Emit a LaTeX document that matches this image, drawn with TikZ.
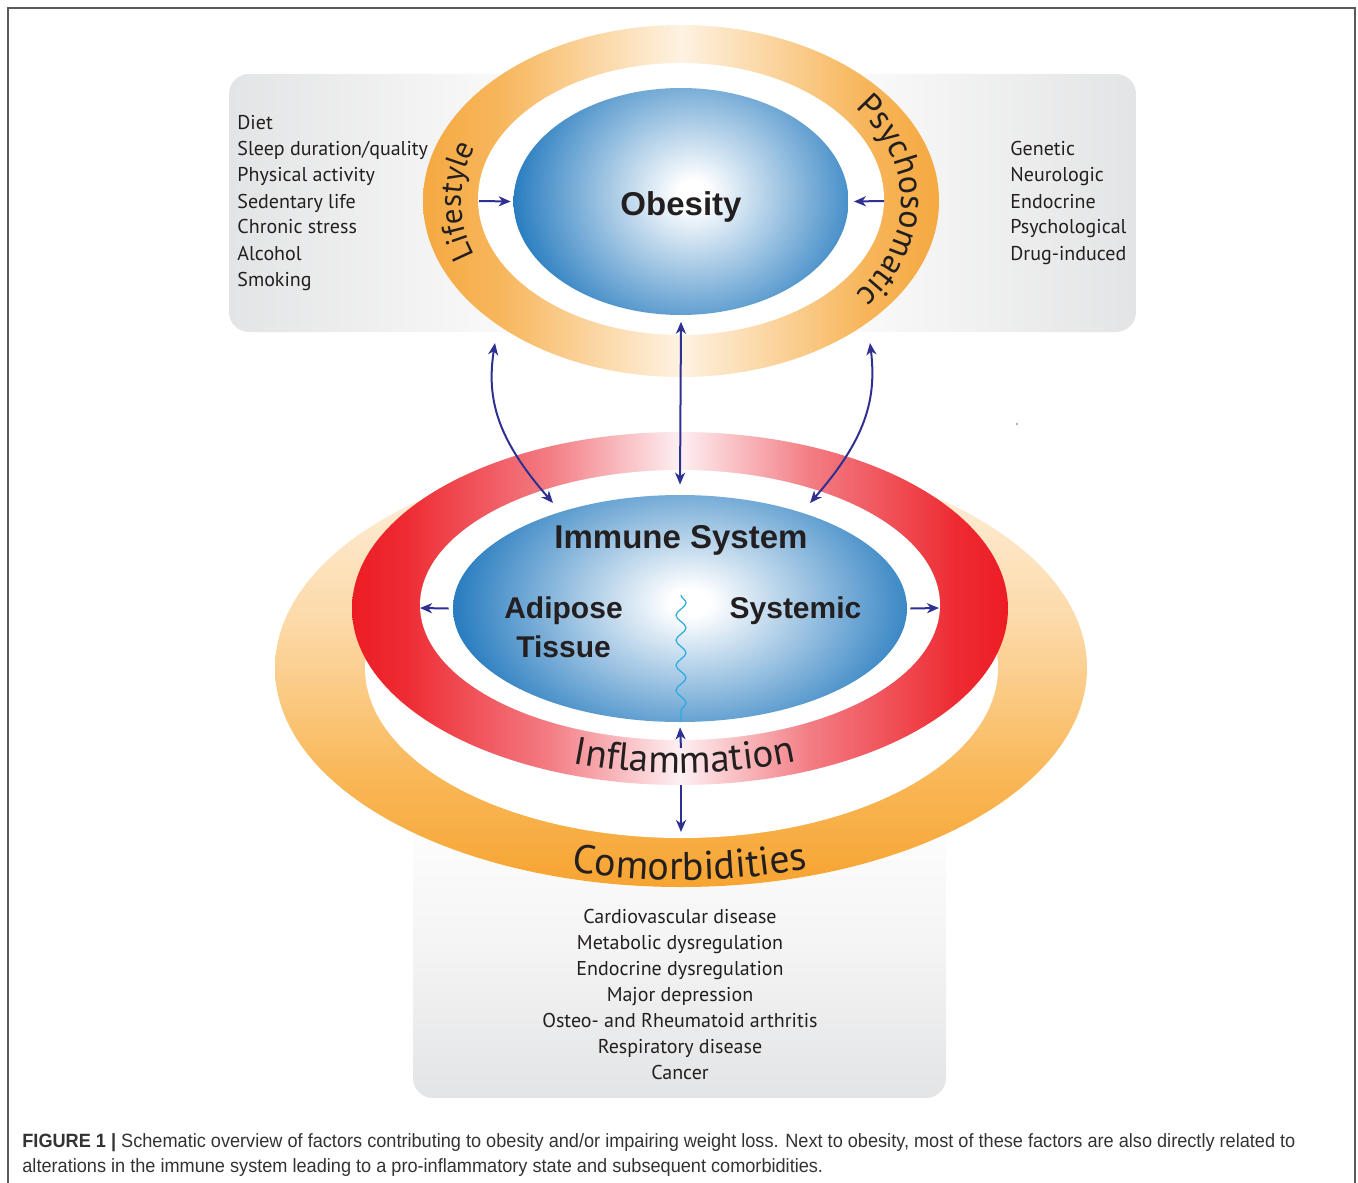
\documentclass[tikz,border=0pt]{standalone}
\usepackage{fontspec}
\usetikzlibrary{shapes.geometric, arrows.meta, decorations.text, decorations.pathmorphing}

\newfontfamily\humfont{PT Sans}
\newfontfamily\headfont{Liberation Sans}
\newfontfamily\capfont[FakeStretch=0.945]{Liberation Sans}

% palette
\definecolor{navy}{HTML}{2E3192}
\definecolor{ink}{HTML}{231F20}
\definecolor{blueE}{HTML}{1C75BC}
\definecolor{waveB}{HTML}{29ABE2}
\definecolor{orS}{HTML}{F5A941}
\definecolor{orA}{HTML}{F7B65C}
\definecolor{orB}{HTML}{FBD9A9}
\definecolor{orP}{HTML}{FEF2E2}
\definecolor{loS}{HTML}{F7A431}
\definecolor{loA}{HTML}{F9B757}
\definecolor{loB}{HTML}{FCD9A7}
\definecolor{loP}{HTML}{FEF3E5}
\definecolor{rdS}{HTML}{ED1C24}
\definecolor{rdA}{HTML}{EE2B33}
\definecolor{rdB}{HTML}{F37C83}
\definecolor{rdP}{HTML}{FDF0F2}
\definecolor{gyS}{HTML}{E3E4E5}
\definecolor{gyA}{HTML}{F4F4F5}
\definecolor{gyB}{HTML}{F9F9F9}

% gradients (TikZ maps a path's bounding box onto the central 25bp..75bp band)
\pgfdeclareradialshading{bluesh}{\pgfpointorigin}{color(0bp)=(white); color(2bp)=(white); color(25bp)=(blueE); color(50bp)=(blueE)}
\pgfdeclarehorizontalshading{orangetop}{100bp}{color(0bp)=(orS); color(25bp)=(orS); color(32.5bp)=(orA); color(42.5bp)=(orB); color(50bp)=(orP); color(57.5bp)=(orB); color(67.5bp)=(orA); color(75bp)=(orS); color(100bp)=(orS)}
\pgfdeclareverticalshading{orangelow}{100bp}{color(0bp)=(loS); color(25bp)=(loS); color(37.5bp)=(loA); color(55bp)=(loB); color(75bp)=(loP); color(100bp)=(loP)}
\pgfdeclarehorizontalshading{redring}{100bp}{color(0bp)=(rdS); color(25bp)=(rdS); color(29bp)=(rdA); color(40bp)=(rdB); color(50bp)=(rdP); color(60bp)=(rdB); color(71bp)=(rdA); color(75bp)=(rdS); color(100bp)=(rdS)}
\pgfdeclarehorizontalshading{greytop}{100bp}{color(0bp)=(gyS); color(25bp)=(gyS); color(40bp)=(gyB); color(50bp)=(white); color(60bp)=(gyB); color(75bp)=(gyS); color(100bp)=(gyS)}
\pgfdeclareverticalshading{greylow}{100bp}{color(0bp)=(gyS); color(25bp)=(gyS); color(50bp)=(gyA); color(75bp)=(white); color(100bp)=(white)}

\tikzset{
  listtext/.style={inner sep=0, text=ink, font=\humfont\fontsize{10}{13}\selectfont},
  headtext/.style={inner sep=0, text=ink, font=\headfont\bfseries\fontsize{16.5}{18}\selectfont},
  subtext/.style={inner sep=0, text=ink, font=\headfont\bfseries\fontsize{15}{17}\selectfont},
  captext/.style={inner sep=0, anchor=base west, text=black!80, font=\capfont\fontsize{9.6}{11}\selectfont},
  ringtext/.style={decorate, decoration={text along path, text align=center, text color=ink, text={#1}}},
  arr/.style={draw=navy, line width=1pt, -{Stealth[length=6pt, width=5pt, inset=1.8pt]}},
  darr/.style={draw=navy, line width=1pt, {Stealth[length=6pt, width=5pt, inset=1.8pt]}-{Stealth[length=6pt, width=5pt, inset=1.8pt]}},
  blob/.style={ellipse, inner sep=0, draw=none},
}

\begin{document}
\begin{tikzpicture}[x=0.5pt, y=-0.5pt]
\useasboundingbox (0,0) rectangle (1358,1182);

% outer frame
\draw[black!65, line width=0.8pt] (8,1190) -- (8,8) -- (1355,8) -- (1355,1190);

% grey panels behind the rings
\shade[shading=greytop, rounded corners=10pt] (229,74) rectangle (1136,332);
\shade[shading=greylow, rounded corners=10pt] (413,800) rectangle (946,1098);

% upper ring (lifestyle / psychosomatic)
\shade[shading=orangetop] (681,201) ellipse [x radius=258, y radius=176];
\fill[white] (681,199) ellipse [x radius=203, y radius=136];

% lower ring (comorbidities)
\shade[shading=orangelow] (681,668) ellipse [x radius=406, y radius=219];
\fill[white] (681.5,668) ellipse [x radius=316.5, y radius=170];

% inflammation ring
\shade[shading=redring] (680,608.5) ellipse [x radius=328, y radius=176.5];
\fill[white] (680,605) ellipse [x radius=260, y radius=135];

% core ellipses
\node[blob, minimum width=167.5pt, minimum height=113.5pt,
  path picture={\shade[shading=bluesh] ([xshift=6pt, yshift=4pt]path picture bounding box.center) ellipse [x radius=95pt, y radius=85pt];}]
  (obesity) at (681,201.5) {};
\node[blob, minimum width=227pt, minimum height=113.5pt,
  path picture={\shade[shading=bluesh] ([xshift=5pt, yshift=3pt]path picture bounding box.center) ellipse [x radius=124pt, y radius=85pt];}]
  (immune) at (680,608.5) {};

% core labels
\node[headtext, anchor=base] (obesitylbl) at (681,215) {Obesity};
\node[headtext, anchor=base] (immunelbl) at (681,548) {Immune System};
\node[subtext, anchor=base] (adipose) at (563.5,618) {Adipose};
\node[subtext, anchor=base] (tissue) at (563.5,657) {Tissue};
\node[subtext, anchor=base] (systemic) at (795.5,618) {Systemic};

% ring labels
\path[ringtext={|\humfont\fontsize{15.5}{18}\selectfont|Lifestyle}]
  ([shift={(681,201)}]130:220 and 153) arc[start angle=130, end angle=230, x radius=220, y radius=153];
\path[ringtext={|\humfont\fontsize{17}{20}\selectfont|Psychosomatic}]
  ([shift={(681,201)}]-65:220 and 153) arc[start angle=-65, end angle=65, x radius=220, y radius=153];
\path[ringtext={|\humfont\fontsize{19.5}{22}\selectfont|Inflammation}]
  ([shift={(680,608)}]129:312 and 165) arc[start angle=129, end angle=49, x radius=312, y radius=165];
\path[ringtext={|\humfont\fontsize{20}{22}\selectfont|Comorbidities}]
  ([shift={(681,668)}]128.5:393 and 212) arc[start angle=128.5, end angle=48.5, x radius=393, y radius=212];

% factor lists
\foreach \t [count=\i] in {Diet, {Sleep duration/quality}, Physical activity, Sedentary life, Chronic stress, Alcohol, Smoking}
  \node[listtext, anchor=base west] (life\i) at (237, {130+26*(\i-1)}) {\t};
\foreach \t [count=\i] in {Genetic, Neurologic, Endocrine, Psychological, Drug-induced}
  \node[listtext, anchor=base west] (psy\i) at (1010, {156+26*(\i-1)}) {\t};
\foreach \t [count=\i] in {Cardiovascular disease, Metabolic dysregulation, Endocrine dysregulation, Major depression, Osteo- and Rheumatoid arthritis, Respiratory disease, Cancer}
  \node[listtext, anchor=base] (com\i) at (680, {923+26*(\i-1)}) {\t};

% connector end points
\coordinate (lsin) at (479,201);
\coordinate (psin) at (884,201);
\coordinate (lsbot) at (495,343);
\coordinate (psbot) at (870,343);
\coordinate (imNW) at (553,503);
\coordinate (imNE) at (810,503);
\coordinate (rdW) at (420,608);
\coordinate (rdE) at (939,608);
\coordinate (inflUp) at (681,748);
\coordinate (inflDn) at (681,785);
\coordinate (comTop) at (681,832);
\coordinate (waveTop) at (681,595);
\coordinate (waveBot) at (681,721);

% connectors
\draw[arr] (lsin) -- ([xshift=-1.2pt]obesity.west);
\draw[arr] (psin) -- ([xshift=2.5pt]obesity.east);
\draw[darr] ([yshift=-3.2pt]obesity.south) -- ([yshift=5pt]immune.north);
\draw[darr] (lsbot) .. controls (486,400) and (498,440) .. (imNW);
\draw[darr] (psbot) .. controls (877,400) and (865,440) .. (imNE);
\draw[arr] ([xshift=-2pt]immune.west) -- (rdW);
\draw[arr] ([xshift=1.5pt]immune.east) -- (rdE);
\draw[arr] (inflUp) -- ([yshift=-2.5pt]immune.south);
\draw[arr] (inflDn) -- (comTop);

% adipose / systemic interface
\draw[waveB, line width=0.6pt, decorate, decoration={snake, segment length=12.5pt, amplitude=2.5pt}] (waveTop) -- (waveBot);

% stray mark
\fill[navy!55] (1017,424) circle (0.6pt);

% caption
\node[captext] (cap1) at (22,1147) {\textbf{FIGURE 1 |} Schematic overview of factors contributing to obesity and/or impairing weight loss. Next to obesity, most of these factors are also directly related to};
\node[captext] (cap2) at (22,1172) {alterations in the immune system leading to a pro-inflammatory state and subsequent comorbidities.};
\end{tikzpicture}
\end{document}
